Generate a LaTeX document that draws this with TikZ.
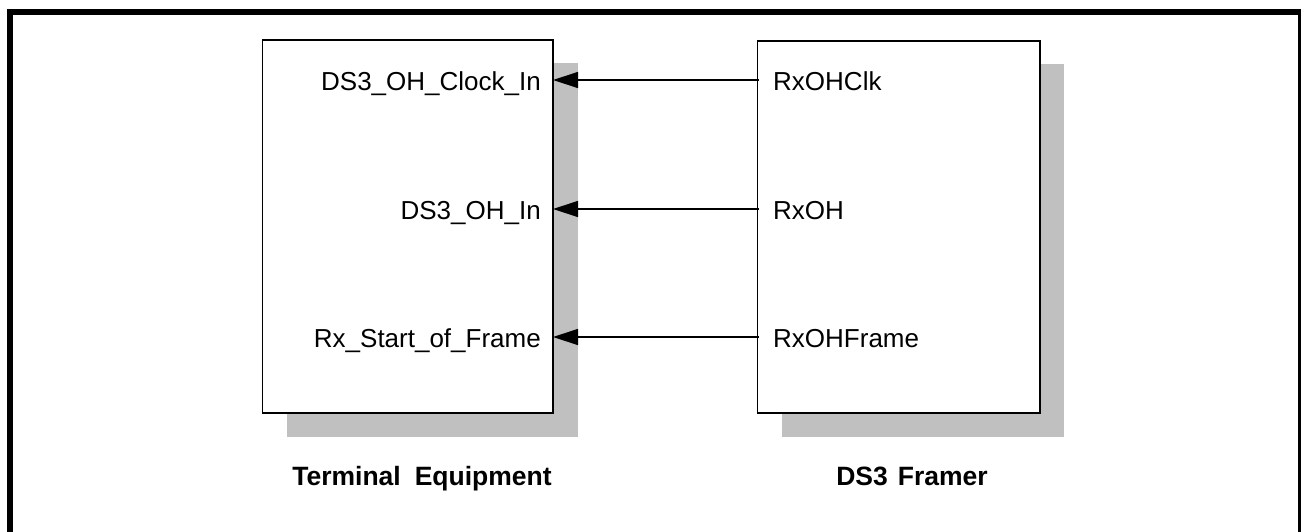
\documentclass[tikz,border=0pt]{standalone}
\usepackage{fontspec}
\setmainfont{Liberation Sans}
\usetikzlibrary{arrows.meta}
\tikzset{
  box/.style={draw=black, line width=1.3pt, fill=white, inner sep=0pt},
  shade/.style={fill=shadowgray, draw=none, inner sep=0pt},
  sig/.style={line width=1.3pt, -{Triangle[length=25pt,width=16pt]}},
  port/.style={inner sep=0pt, font=\fontsize{26}{30}\selectfont},
  title/.style={inner sep=0pt, font=\fontsize{26.5}{30}\selectfont\bfseries},
}
\definecolor{shadowgray}{RGB}{192,192,192}
\begin{document}
\begin{tikzpicture}[x=1pt,y=-1pt]
\useasboundingbox (0,0) rectangle (1301,531);
\clip (0,0) rectangle (1301,531);
% outer frame
\draw[line width=6pt] (10,12) rectangle (1301,540);
% shadows
\node[shade, minimum width=291pt, minimum height=374pt] (tesh) at (432.5,250) {};
\node[shade, minimum width=282pt, minimum height=373pt] (frsh) at (923,250.5) {};
% boxes
\node[box, minimum width=290.7pt, minimum height=373pt] (te) at (407.65,226.5) {};
\node[box, minimum width=282.7pt, minimum height=372pt] (fr) at (898.65,227) {};
% port points
\coordinate (inA) at (553,80);
\coordinate (inB) at (553,209);
\coordinate (inC) at (553,337);
\coordinate (outA) at (759,80);
\coordinate (outB) at (759,209);
\coordinate (outC) at (759,337);
% port labels
\node[port, anchor=base east] (lA) at (541,90.5) {DS3\_OH\_Clock\_In};
\node[port, anchor=base east] (lB) at (541,219.5) {DS3\_OH\_In};
\node[port, anchor=base east] (lC) at (541,347.5) {Rx\_Start\_of\_Frame};
\node[port, anchor=base west] (rA) at (773,90.5) {RxOHClk};
\node[port, anchor=base west] (rB) at (773,219.5) {RxOH};
\node[port, anchor=base west] (rC) at (773,347.5) {RxOHFrame};
% connectors
\draw[sig] (outA) -- (inA);
\draw[sig] (outB) -- (inB);
\draw[sig] (outC) -- (inC);
% titles
\node[title, anchor=base] (tTE) at (422,485) {Terminal\hspace{14pt}Equipment};
\node[title, anchor=base] (tFR) at (912,485) {DS3\hspace{10pt}Framer};
\end{tikzpicture}
\end{document}
